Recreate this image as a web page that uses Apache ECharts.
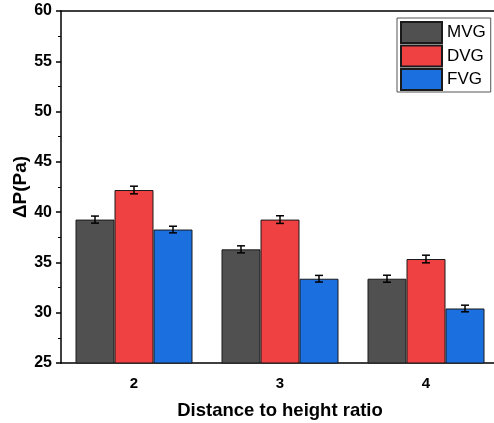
<!DOCTYPE html>
<html><head><meta charset="utf-8">
<script src="https://cdn.jsdelivr.net/npm/echarts@6/dist/echarts.min.js"></script>
<style>html,body{margin:0;padding:0;background:#fff;overflow:hidden}#c{width:520px;height:423px}</style>
</head><body><div id="c"></div>
<script>
var categories = ['2', '3', '4'];
var seriesNames = ['MVG', 'DVG', 'FVG'];
var mvg = [39.26, 36.3, 33.38];
var dvg = [42.2, 39.26, 35.34];
var fvg = [38.27, 33.38, 30.42];
var mvgErr = [0.35, 0.35, 0.35];
var dvgErr = [0.38, 0.38, 0.38];
var fvgErr = [0.33, 0.33, 0.33];
var colors = ['#505050', '#f04142', '#1b6fdf'];

var values = [mvg, dvg, fvg];
var errs = [mvgErr, dvgErr, fvgErr];
var BAR_W = 39;
var FONT = 'Liberation Sans, Arial, sans-serif';

var series = [];
values.forEach(function (v, i) {
  series.push({
    name: seriesNames[i], type: 'bar', data: v, barWidth: BAR_W, barGap: '0%',
    itemStyle: { color: colors[i], borderColor: '#1a1a1a', borderWidth: 1 },
    z: 2
  });
});
values.forEach(function (v, i) {
  var data = v.map(function (val, j) { return [j, val, errs[i][j]]; });
  series.push({
    type: 'custom', name: 'err' + i, data: data, z: 5, silent: true,
    renderItem: function (params, api) {
      var c = api.value(0), val = api.value(1), e = api.value(2);
      var hi = api.coord([c, val + e]);
      var lo = api.coord([c, val - e]);
      var x = hi[0] + (i - 1) * BAR_W;
      var cw = 4;
      var st = { stroke: '#000', lineWidth: 1.5 };
      return { type: 'group', children: [
        { type: 'line', shape: { x1: x, y1: hi[1], x2: x, y2: lo[1] }, style: st },
        { type: 'line', shape: { x1: x - cw, y1: hi[1], x2: x + cw, y2: hi[1] }, style: st },
        { type: 'line', shape: { x1: x - cw, y1: lo[1], x2: x + cw, y2: lo[1] }, style: st }
      ]};
    }
  });
});

var chart = echarts.init(document.getElementById('c'), null, { renderer: 'canvas' });
chart.setOption({
  animation: false,
  backgroundColor: '#fff',
  textStyle: { fontFamily: FONT },
  grid: { left: 61, top: 11, width: 438, height: 352, containLabel: false, outerBoundsMode: 'none' },
  legend: {
    data: seriesNames.map(function (n) { return { name: n, icon: 'rect' }; }),
    orient: 'vertical', left: 397, top: 18,
    itemWidth: 41, itemHeight: 21, itemGap: 0.5,
    padding: [3, 5, 1, 3],
    borderColor: '#555', borderWidth: 1,
    textStyle: { fontFamily: FONT, fontSize: 17, lineHeight: 21, color: '#000' }
  },
  xAxis: [{
    type: 'category', data: categories, position: 'bottom',
    name: 'Distance to height ratio', nameLocation: 'middle', nameGap: 38,
    nameTextStyle: { fontFamily: FONT, fontSize: 18.5, fontWeight: 'bold', color: '#000' },
    axisLine: { lineStyle: { color: '#000', width: 1.5 } },
    axisTick: { alignWithLabel: true, length: 5, lineStyle: { color: '#000', width: 1.5 } },
    axisLabel: { fontFamily: FONT, fontSize: 15, fontWeight: 'bold', color: '#000', margin: 13 }
  }, {
    type: 'category', data: categories, position: 'top',
    axisLine: { lineStyle: { color: '#000', width: 1.5 } },
    axisTick: { show: false }, axisLabel: { show: false }
  }],
  yAxis: {
    type: 'value', min: 25, max: 60, interval: 5,
    name: 'ΔP(Pa)', nameLocation: 'middle', nameGap: 31, nameMoveOverlap: false,
    nameTextStyle: { fontFamily: FONT, fontSize: 19, fontWeight: 'bold', color: '#000' },
    axisLine: { show: true, lineStyle: { color: '#000', width: 1.5 } },
    axisTick: { show: true, length: 5, lineStyle: { color: '#000', width: 1.5 } },
    minorTick: { show: true, splitNumber: 2, length: 3, lineStyle: { color: '#000', width: 1 } },
    splitLine: { show: false },
    axisLabel: { fontFamily: FONT, fontSize: 16, fontWeight: 'bold', color: '#000', margin: 9 }
  },
  series: series
});
</script></body></html>
